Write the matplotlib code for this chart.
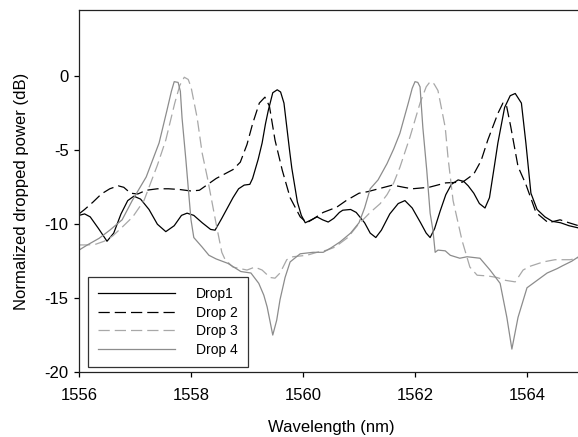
import matplotlib
matplotlib.use('Agg')
import matplotlib.pyplot as plt
import numpy as np

plt.rcParams['font.family'] = ['Liberation Sans', 'DejaVu Sans']
plt.rcParams['axes.unicode_minus'] = False

# ---- data (wavelength nm, normalized power dB) ----
wl1 = [1556.0, 1556.1, 1556.2, 1556.35, 1556.5, 1556.62, 1556.75, 1556.87, 1556.98, 1557.1,
       1557.25, 1557.4, 1557.55, 1557.7, 1557.83, 1557.93, 1558.05, 1558.2, 1558.35, 1558.43,
       1558.55, 1558.65, 1558.75, 1558.85, 1558.95, 1559.05, 1559.1, 1559.2, 1559.27, 1559.33,
       1559.38, 1559.46, 1559.54, 1559.6, 1559.66, 1559.71, 1559.76, 1559.8, 1559.9, 1559.97,
       1560.04, 1560.15, 1560.25, 1560.35, 1560.45, 1560.55, 1560.65, 1560.71, 1560.85, 1560.95,
       1561.1, 1561.2, 1561.3, 1561.4, 1561.55, 1561.7, 1561.82, 1561.95, 1562.1, 1562.2,
       1562.27, 1562.35, 1562.45, 1562.55, 1562.65, 1562.77, 1562.87, 1562.95, 1563.05, 1563.15,
       1563.25, 1563.33, 1563.42, 1563.48, 1563.6, 1563.7, 1563.79, 1563.9, 1563.98, 1564.07,
       1564.18, 1564.32, 1564.45, 1564.6, 1564.75, 1564.92]
p1 = [-9.4, -9.3, -9.5, -10.3, -11.15, -10.6, -9.3, -8.4, -8.1, -8.3,
      -9.0, -10.0, -10.5, -10.1, -9.4, -9.25, -9.4, -9.9, -10.35, -10.4,
      -9.6, -8.9, -8.2, -7.6, -7.35, -7.3, -6.9, -5.6, -4.5, -3.2,
      -2.3, -1.1, -0.9, -1.05, -1.8, -3.4, -5.0, -6.2, -8.5, -9.4,
      -9.9, -9.7, -9.5, -9.7, -9.85, -9.6, -9.2, -9.05, -9.0, -9.2,
      -9.9, -10.6, -10.9, -10.4, -9.3, -8.6, -8.4, -8.9, -9.9, -10.6,
      -10.9, -10.3, -9.1, -8.0, -7.3, -7.0, -7.1, -7.4, -7.9, -8.6,
      -8.9, -8.2, -6.0, -4.5, -2.1, -1.3, -1.15, -1.8, -4.5, -7.9,
      -9.0, -9.5, -9.8, -9.9, -10.1, -10.25]

wl2 = [1556.0, 1556.1, 1556.25, 1556.4, 1556.55, 1556.7, 1556.8, 1556.92, 1557.05, 1557.2,
       1557.4, 1557.6, 1557.8, 1558.0, 1558.15, 1558.3, 1558.45, 1558.6, 1558.75, 1558.88,
       1559.0, 1559.1, 1559.22, 1559.32, 1559.4, 1559.5, 1559.63, 1559.77, 1559.95, 1560.07,
       1560.2, 1560.36, 1560.6, 1560.77, 1561.0, 1561.15, 1561.35, 1561.6, 1561.8, 1561.95,
       1562.25, 1562.55, 1562.85, 1563.05, 1563.18, 1563.3, 1563.48, 1563.57, 1563.63, 1563.71,
       1563.84, 1563.98, 1564.16, 1564.38, 1564.59, 1564.75, 1564.92]
p2 = [-9.3, -9.0, -8.5, -7.95, -7.6, -7.4, -7.5, -7.9, -7.95, -7.7,
      -7.6, -7.6, -7.65, -7.75, -7.7, -7.3, -6.9, -6.6, -6.3, -5.8,
      -4.6, -3.2, -1.8, -1.4, -2.0, -4.3, -6.35, -8.2, -9.5, -9.9,
      -9.6, -9.2, -8.85, -8.4, -7.9, -7.8, -7.6, -7.35, -7.5, -7.6,
      -7.5, -7.2, -7.15, -6.6, -5.7, -4.3, -2.5, -1.8, -1.9, -3.4,
      -6.1, -7.3, -9.2, -9.9, -9.7, -9.9, -10.1]

wl3 = [1556.0, 1556.15, 1556.3, 1556.45, 1556.6, 1556.77, 1556.96, 1557.16, 1557.28, 1557.4,
       1557.55, 1557.71, 1557.8, 1557.88, 1557.95, 1558.0, 1558.11, 1558.2, 1558.29, 1558.36,
       1558.45, 1558.55, 1558.61, 1558.75, 1559.0, 1559.14, 1559.27, 1559.41, 1559.5, 1559.59,
       1559.71, 1559.82, 1560.07, 1560.25, 1560.43, 1560.57, 1560.8, 1560.98, 1561.2, 1561.38,
       1561.5, 1561.62, 1561.73, 1561.91, 1562.09, 1562.2, 1562.27, 1562.34, 1562.41, 1562.54,
       1562.59, 1562.68, 1562.84, 1562.98, 1563.11, 1563.3, 1563.46, 1563.62, 1563.79, 1563.93,
       1564.05, 1564.29, 1564.5, 1564.77, 1564.92]
p3 = [-11.4, -11.4, -11.35, -11.15, -10.8, -10.2, -9.5, -8.4, -7.2, -6.0,
      -4.3, -1.8, -0.6, -0.05, -0.2, -0.7, -2.8, -5.2, -6.8, -8.2,
      -10.0, -11.9, -12.4, -12.9, -13.1, -12.9, -13.1, -13.6, -13.65, -13.3,
      -12.4, -12.2, -12.1, -11.9, -11.75, -11.55, -10.9, -10.05, -9.2, -8.6,
      -8.0, -7.2, -6.15, -4.1, -1.8, -0.7, -0.35, -0.5, -0.95, -3.45,
      -5.5, -8.4, -11.1, -12.9, -13.45, -13.5, -13.6, -13.8, -13.9, -13.1,
      -12.85, -12.55, -12.4, -12.4, -12.3]

wl4 = [1556.0, 1556.15, 1556.36, 1556.55, 1556.77, 1556.95, 1557.2, 1557.43, 1557.57, 1557.65,
       1557.7, 1557.77, 1557.81, 1557.84, 1557.91, 1557.95, 1558.0, 1558.05, 1558.2, 1558.32,
       1558.45, 1558.66, 1558.89, 1559.07, 1559.21, 1559.3, 1559.36, 1559.46, 1559.53, 1559.59,
       1559.68, 1559.77, 1559.95, 1560.18, 1560.36, 1560.5, 1560.66, 1560.85, 1561.0, 1561.1,
       1561.2, 1561.34, 1561.5, 1561.62, 1561.73, 1561.88, 1561.95, 1562.0, 1562.05, 1562.09,
       1562.14, 1562.21, 1562.27, 1562.32, 1562.36, 1562.41, 1562.54, 1562.63, 1562.8, 1562.93,
       1563.16, 1563.34, 1563.52, 1563.64, 1563.73, 1563.84, 1564.0, 1564.18, 1564.36, 1564.54,
       1564.64, 1564.8, 1564.92]
p4 = [-11.75, -11.4, -10.95, -10.4, -9.7, -8.4, -6.8, -4.5, -2.3, -1.0,
      -0.35, -0.4, -1.0, -2.8, -5.7, -7.5, -9.7, -10.9, -11.55, -12.1,
      -12.35, -12.65, -13.2, -13.3, -14.0, -14.8, -15.6, -17.5, -16.5, -15.1,
      -13.6, -12.55, -12.0, -11.9, -11.9, -11.6, -11.2, -10.6, -9.9, -8.9,
      -7.6, -7.0, -5.9, -4.9, -3.85, -1.8, -0.8, -0.35, -0.4, -0.7,
      -3.45, -6.35, -9.25, -10.4, -11.9, -11.75, -11.8, -12.1, -12.3, -12.2,
      -12.3, -13.1, -14.0, -16.3, -18.45, -16.3, -14.3, -13.8, -13.3, -13.0,
      -12.8, -12.5, -12.2]

labels = ['Drop1', 'Drop 2', 'Drop 3', 'Drop 4']
xticks = [1556, 1558, 1560, 1562, 1564]
yticks = [-20, -15, -10, -5, 0]

fig = plt.figure(figsize=(5.78, 4.37), dpi=100)
ax = fig.add_axes([79 / 578, 65 / 437, 504 / 578, 362 / 437])

ax.plot(wl1, p1, color='black', lw=0.9, label=labels[0])
ax.plot(wl2, p2, color='black', lw=0.9, dashes=(9, 4), label=labels[1])
ax.plot(wl3, p3, color='#a8a8a8', lw=0.9, dashes=(9, 4), label=labels[2])
ax.plot(wl4, p4, color='#8c8c8c', lw=0.9, label=labels[3])

ax.set_xlim(1556, 1565)
ax.set_ylim(-20, 4.5)
ax.set_xticks(xticks)
ax.set_yticks(yticks)
ax.tick_params(direction='out', length=3.5, width=0.9, labelsize=12, top=False, right=False)
ax.tick_params(axis='x', pad=8)
ax.tick_params(axis='y', pad=4)
for s in ax.spines.values():
    s.set_linewidth(0.9)
    s.set_color('#222222')

ax.set_xlabel('Wavelength (nm)', fontsize=12, labelpad=12)
ax.set_ylabel('Normalized dropped power (dB)', fontsize=12, labelpad=11)

leg = ax.legend(loc='lower left', bbox_to_anchor=(9 / 504, 5 / 362), fontsize=10,
                frameon=True, fancybox=False, edgecolor='black', handlelength=5.5,
                handletextpad=1.5, labelspacing=0.32, borderpad=0.75, borderaxespad=0)
leg.get_frame().set_linewidth(0.9)

fig.savefig('out.png', dpi=100)
